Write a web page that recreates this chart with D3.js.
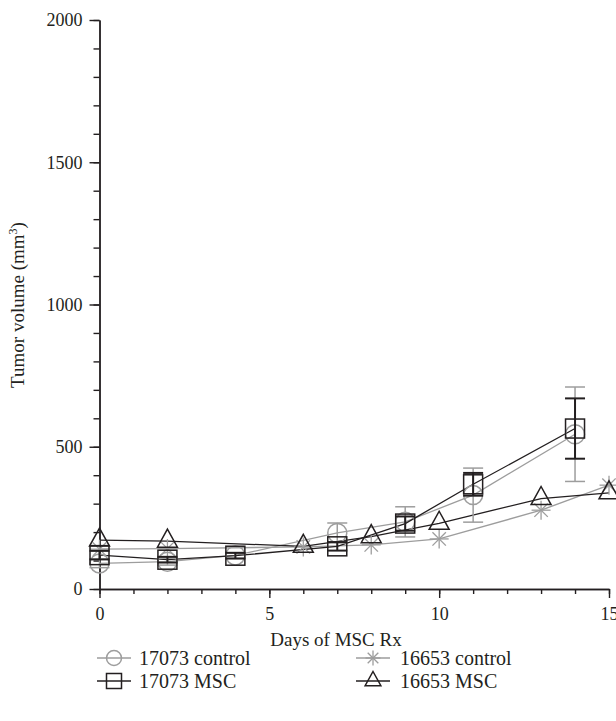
<!DOCTYPE html>
<html><head><meta charset="utf-8">
<script src="https://cdn.jsdelivr.net/npm/d3@7"></script>
<style>
body{margin:0;background:#fff}
svg{display:block}
text{font-family:"Liberation Serif","Times New Roman",serif;fill:#231f20}
</style>
</head><body>
<svg id="c" width="616" height="721"></svg>
<script>
// ---- data ----
const days17073 = [0, 2, 4, 7, 9, 11, 14];
const ctrl17073 = [90, 96, 118, 197, 236, 330, 544];
const ctrl17073Err = [15, 12, 10, 35, 53, 95, 166];
const msc17073 = [119, 103, 117, 150, 230, 368, 564];
const msc17073Err = [15, 10, 10, 15, 25, 40, 106];
const days16653 = [0, 2, 6, 8, 10, 13, 15];
const ctrl16653 = [140, 142, 148, 155, 176, 277, 365];
const msc16653 = [172, 168, 150, 184, 231, 318, 338];
const xTicks = [0, 5, 10, 15];
const yTicks = [0, 500, 1000, 1500, 2000];
const legendLabels = ["17073 control", "16653 control", "17073 MSC", "16653 MSC"];

const GREY = "#9d9d9d", BLACK = "#231f20";
const FONT = '"Liberation Serif","Times New Roman",serif';
const svg = d3.select("#c");
const x = d3.scaleLinear().domain([0, 15]).range([99.5, 609]);
const y = d3.scaleLinear().domain([0, 2000]).range([589, 20]);

// ---- axes ----
function styleAxis(g){
  g.selectAll("path").attr("stroke", BLACK).attr("stroke-width", 1.4);
  g.selectAll("line").attr("stroke", BLACK).attr("stroke-width", 1.4);
  g.selectAll("text").attr("font-size", 18).style("font-family", FONT).attr("fill", BLACK);
}
const yMinor = svg.append("g").attr("transform", "translate(99.5,0)")
  .call(d3.axisLeft(y).tickValues(d3.range(0, 2001, 100)).tickSize(6).tickSizeOuter(0).tickFormat(""));
styleAxis(yMinor);
const yMajor = svg.append("g").attr("transform", "translate(99.5,0)")
  .call(d3.axisLeft(y).tickValues(yTicks).tickSize(10).tickSizeOuter(0).tickPadding(7).tickFormat(d3.format("d")));
styleAxis(yMajor);
const xMinor = svg.append("g").attr("transform", "translate(0,589)")
  .call(d3.axisBottom(x).tickValues(d3.range(0, 16, 1)).tickSize(5).tickSizeOuter(0).tickFormat(""));
styleAxis(xMinor);
const xMajor = svg.append("g").attr("transform", "translate(0,589)")
  .call(d3.axisBottom(x).tickValues(xTicks).tickSize(9).tickSizeOuter(0).tickPadding(9).tickFormat(d3.format("d")));
styleAxis(xMajor);

// axis titles
svg.append("text").attr("x", 336).attr("y", 646).attr("text-anchor", "middle")
  .attr("font-size", 19).text("Days of MSC Rx");
const yl = svg.append("text").attr("transform", "translate(24,305) rotate(-90)")
  .attr("text-anchor", "middle").attr("font-size", 19);
yl.append("tspan").text("Tumor volume (mm");
yl.append("tspan").attr("font-size", 12).attr("dy", -7).text("3");
yl.append("tspan").attr("dy", 7).text(")");

// ---- marker shapes ----
function marker(g, type, cx, cy, s, color){
  const sw = 1.5;
  if (type === "circle") {
    g.append("circle").attr("cx", cx).attr("cy", cy).attr("r", s/2)
      .attr("fill", "none").attr("stroke", color).attr("stroke-width", sw);
  } else if (type === "square") {
    g.append("rect").attr("x", cx - s/2).attr("y", cy - s/2).attr("width", s).attr("height", s)
      .attr("fill", "none").attr("stroke", color).attr("stroke-width", sw);
  } else if (type === "triangle") {
    const h = s * 0.95, w = s * 1.05;
    const p = [[cx, cy - h*2/3], [cx + w/2, cy + h/3], [cx - w/2, cy + h/3]];
    g.append("path").attr("d", "M" + p.join("L") + "Z")
      .attr("fill", "none").attr("stroke", color).attr("stroke-width", sw);
  } else if (type === "star") {
    const r = s/2;
    [90, 0, 45, 135].forEach(a => {
      const rad = a * Math.PI / 180;
      g.append("line")
        .attr("x1", cx - r*Math.cos(rad)).attr("y1", cy - r*Math.sin(rad))
        .attr("x2", cx + r*Math.cos(rad)).attr("y2", cy + r*Math.sin(rad))
        .attr("stroke", color).attr("stroke-width", 1.3);
    });
  }
}

const series = [
  {days: days17073, vals: ctrl17073, err: ctrl17073Err, type: "circle", color: GREY},
  {days: days16653, vals: ctrl16653, err: null, type: "star", color: GREY},
  {days: days17073, vals: msc17073, err: msc17073Err, type: "square", color: BLACK},
  {days: days16653, vals: msc16653, err: null, type: "triangle", color: BLACK}
];

const plot = svg.append("g");
const line = d3.line().x(d => x(d[0])).y(d => y(d[1]));

series.forEach(s => {
  const pts = s.days.map((d, i) => [d, s.vals[i]]);
  plot.append("path").attr("d", line(pts)).attr("fill", "none")
    .attr("stroke", s.color).attr("stroke-width", 1.3);
});

series.forEach(s => {
  const g = plot.append("g");
  if (s.err) {
    s.days.forEach((d, i) => {
      const cx = x(d), hi = y(s.vals[i] + s.err[i]), lo = y(s.vals[i] - s.err[i]);
      const ew = s.color === BLACK ? 2 : 1.5;
      g.append("line").attr("x1", cx).attr("x2", cx).attr("y1", hi).attr("y2", lo)
        .attr("stroke", s.color).attr("stroke-width", ew);
      [hi, lo].forEach(yy => g.append("line").attr("x1", cx - 10).attr("x2", cx + 10)
        .attr("y1", yy).attr("y2", yy).attr("stroke", s.color).attr("stroke-width", ew));
    });
  }
  s.days.forEach((d, i) => marker(g, s.type, x(d), y(s.vals[i]), 19, s.color));
});

// ---- legend ----
const legendPos = [
  {lx: 97, tx: 139, y: 658},
  {lx: 356, tx: 400, y: 658},
  {lx: 97, tx: 139, y: 681},
  {lx: 356, tx: 400, y: 681}
];
series.forEach((s, i) => {
  const p = legendPos[i];
  const g = svg.append("g");
  g.append("line").attr("x1", p.lx).attr("x2", p.lx + 34).attr("y1", p.y).attr("y2", p.y)
    .attr("stroke", s.color).attr("stroke-width", 1.3);
  marker(g, s.type, p.lx + 17, p.y, 15, s.color);
  g.append("text").attr("x", p.tx).attr("y", p.y + 6.5).attr("font-size", 20).text(legendLabels[i]);
});
</script>
</body></html>
